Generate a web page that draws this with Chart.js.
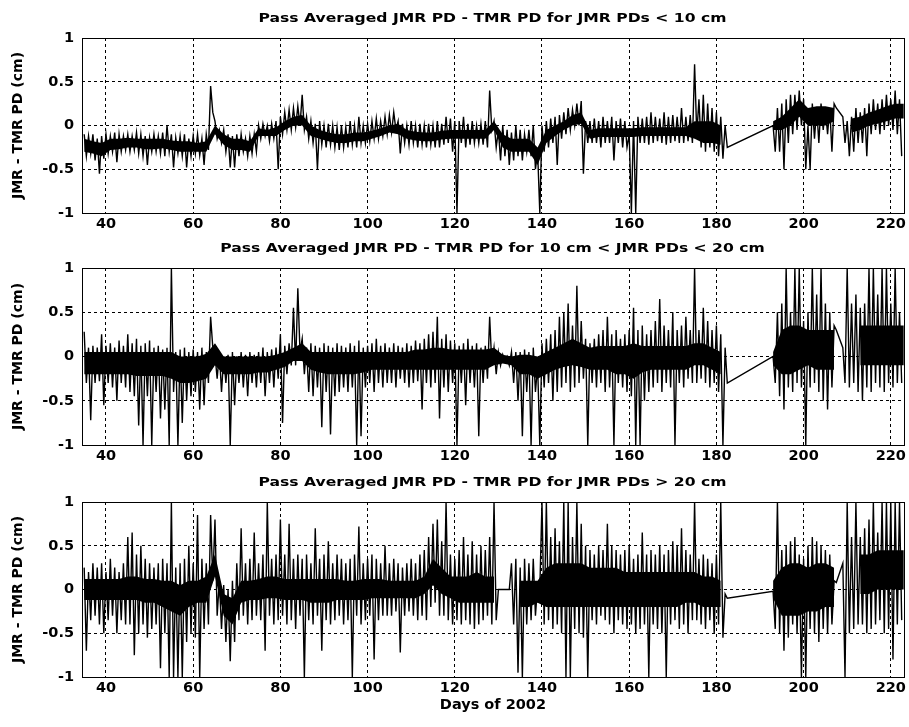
<!DOCTYPE html>
<html>
<head>
<meta charset="utf-8">
<script src="https://cdn.jsdelivr.net/npm/chart.js@4.4.0/dist/chart.umd.min.js"></script>
<style>
body { margin: 0; background: #fff; }
#wrap { position: relative; width: 909px; height: 727px; }
canvas { position: absolute; left: 0; }
</style>
</head>
<body>
<div id="wrap">
  <canvas id="c1" width="909" height="232" style="top:0px"></canvas>
  <canvas id="c2" width="909" height="232" style="top:232px"></canvas>
  <canvas id="c3" width="909" height="263" style="top:464px"></canvas>
</div>
<script>
// day of 2002 for the first value in every series: one hi/lo pair per day,
// the dense core band is read every coreStep days
const firstDay = 35
const coreStep = 2
const dayTicks = [40, 60, 80, 100, 120, 140, 160, 180, 200, 220]
const pdTicks = [-1, -0.5, 0, 0.5, 1]

const titles = [
    'Pass Averaged JMR PD - TMR PD for JMR PDs < 10 cm',
    'Pass Averaged JMR PD - TMR PD for 10 cm < JMR PDs < 20 cm',
    'Pass Averaged JMR PD - TMR PD for JMR PDs > 20 cm'
]
const yLabel = 'JMR - TMR PD (cm)'
const xLabel = 'Days of 2002'

// JMR PDs < 10 cm
const lowHi = [
    -0.1, -0.12, -0.1, -0.15, -0.12, -0.1, -0.12, -0.08, -0.1, -0.12,   // 35
    -0.1, -0.12, -0.08, -0.1, -0.12, -0.14, -0.1, -0.12, -0.08, 0.0,    // 45
    -0.1, -0.14, -0.12, -0.1, -0.15, -0.12, -0.1, -0.15, -0.1, 0.45,    // 55
    0.05, -0.05, -0.05, -0.1, -0.12, -0.1, -0.1, -0.15, -0.12, -0.1,    // 65
    0.0, 0.02, 0.0, 0.02, 0.05, 0.1, 0.15, 0.18, 0.2, 0.22,             // 75
    0.35, 0.1, 0.05, 0.02, 0.05, 0.0, 0.02, 0.0, -0.02, 0.0,            // 85
    -0.02, 0.05, 0.0, 0.1, 0.0, 0.02, 0.05, 0.08, 0.05, 0.1,            // 95
    0.12, 0.15, 0.05, 0.02, 0.0, 0.05, 0.0, 0.02, 0.0, 0.02,            // 105
    0.0, 0.05, 0.02, 0.1, 0.08, 0.05, 0.05, 0.1, 0.02, 0.05,            // 115
    0.0, 0.02, 0.05, 0.4, 0.05, -0.05, 0.0, -0.05, -0.08, 0.0,          // 125
    -0.05, -0.1, -0.05, 0.0, -0.3, 0.0, 0.05, 0.08, 0.1, 0.12,          // 135
    0.15, 0.2, 0.18, 0.25, 0.28, 0.05, 0.05, 0.08, 0.05, 0.1,           // 145
    0.05, 0.1, 0.05, 0.08, 0.05, -0.1, 0.05, 0.1, 0.08, 0.1,            // 155
    0.15, 0.1, 0.08, 0.15, 0.1, 0.12, 0.1, 0.2, 0.1, 0.12,              // 165
    0.7, 0.3, 0.35, 0.25, 0.2, 0.15, 0.1, 0.0, null, null,              // 175
    null, null, null, null, null, null, null, null,                     // 185
    0.0, 0.2, 0.25, 0.3, 0.35, 0.35, 0.4, 0.3, 0.0, 0.25,               // 193
    0.2, 0.25, 0.2, 0.2, 0.25, null, 0.1, 0.05, 0.1, 0.2,               // 203
    0.15, 0.2, 0.25, 0.3, 0.25, 0.3, 0.35, 0.3, 0.4, 0.3                // 213
]
const lowLo = [
    -0.35, -0.32, -0.4, -0.55, -0.38, -0.32, -0.3, -0.42, -0.3, -0.28,
    -0.3, -0.28, -0.32, -0.35, -0.45, -0.3, -0.3, -0.32, -0.35, -0.3,
    -0.48, -0.32, -0.35, -0.48, -0.35, -0.32, -0.34, -0.45, -0.28, 0.15,
    -0.15, -0.2, -0.3, -0.48, -0.48, -0.35, -0.3, -0.35, -0.32, -0.3,
    -0.15, -0.12, -0.18, -0.15, -0.5, -0.1, -0.05, -0.05, -0.02, 0.0,
    -0.05, -0.15, -0.2, -0.5, -0.22, -0.25, -0.22, -0.25, -0.28, -0.25,
    -0.25, -0.22, -0.25, -0.2, -0.2, -0.18, -0.15, -0.15, -0.12, -0.1,
    -0.08, -0.05, -0.32, -0.2, -0.22, -0.2, -0.25, -0.22, -0.25, -0.22,
    -0.25, -0.25, -0.22, -0.2, -0.3, -1.0, -0.2, -0.25, -0.22, -0.2,
    -0.2, -0.22, -0.25, -0.05, -0.25, -0.4, -0.35, -0.45, -0.4, -0.35,
    -0.4, -0.3, -0.35, -0.5, -1.0, -0.3, -0.25, -0.2, -0.45, -0.15,
    -0.1, -0.05, 0.0, 0.0, -0.55, -0.2, -0.2, -0.2, -0.25, -0.2,
    -0.2, -0.4, -0.2, -0.25, -0.25, -1.0, -1.0, -0.2, -0.2, -0.22,
    -0.2, -0.18, -0.2, -0.22, -0.2, -0.18, -0.2, -0.2, -0.18, -0.2,
    -0.1, -0.25, -0.3, -0.25, -0.3, -0.35, -0.38, -0.25, null, null,
    null, null, null, null, null, null, null, null,
    -0.3, -0.3, -0.5, -0.2, -0.1, -0.05, 0.0, -0.5, -0.5, -0.15,
    -0.2, -0.05, -0.1, -0.3, 0.2, null, -0.2, -0.35, -0.3, -0.2,
    -0.2, -0.35, -0.1, -0.05, -0.1, -0.05, 0.0, -0.05, -0.1, -0.35
]
// core band, days 35, 37, ... 223
const lowCoreHi = [
    -0.15, -0.18, -0.2, -0.15, -0.15, -0.14, -0.15, -0.15, -0.15, -0.15,   // 35
    -0.17, -0.18, -0.18, -0.2, -0.18, 0.0, -0.1, -0.15, -0.15, -0.18,      // 55
    -0.03, -0.05, -0.02, 0.05, 0.1, 0.12, 0.0, -0.05, -0.08, -0.1,         // 75
    -0.1, -0.08, -0.08, -0.06, -0.03, 0.0, 0.02, -0.05, -0.07, -0.08,      // 95
    -0.08, -0.06, -0.05, -0.05, -0.05, -0.05, -0.05, 0.05, -0.1, -0.15,    // 115
    -0.15, -0.15, -0.25, -0.05, 0.0, 0.05, 0.12, 0.15, -0.05, -0.03,       // 135
    -0.03, -0.03, -0.03, -0.03, -0.02, -0.02, -0.02, -0.02, -0.02, -0.02,  // 155
    0.05, 0.05, 0.05, 0.0, null, null, null, null, null, 0.05,             // 175
    0.1, 0.2, 0.3, 0.2, 0.22, 0.22, 0.2, null, 0.08, 0.1,                  // 195
    0.15, 0.18, 0.22, 0.25, 0.25                                           // 215
]
const lowCoreLo = [
    -0.3, -0.32, -0.35, -0.28, -0.27, -0.25, -0.25, -0.27, -0.27, -0.26,
    -0.28, -0.3, -0.3, -0.3, -0.3, -0.1, -0.22, -0.28, -0.28, -0.3,
    -0.12, -0.12, -0.12, -0.05, 0.0, 0.0, -0.12, -0.15, -0.18, -0.2,
    -0.2, -0.18, -0.18, -0.15, -0.12, -0.08, -0.1, -0.15, -0.17, -0.18,
    -0.18, -0.16, -0.15, -0.15, -0.15, -0.15, -0.15, -0.05, -0.25, -0.3,
    -0.3, -0.3, -0.45, -0.2, -0.12, -0.05, 0.0, 0.02, -0.15, -0.13,
    -0.13, -0.13, -0.13, -0.13, -0.12, -0.12, -0.12, -0.12, -0.12, -0.12,
    -0.15, -0.2, -0.2, -0.22, null, null, null, null, null, -0.05,
    -0.05, 0.0, 0.1, 0.0, 0.0, 0.0, 0.05, null, -0.08, -0.05,
    0.0, 0.02, 0.05, 0.08, 0.08
]

// 10 cm < JMR PDs < 20 cm
const midHi = [
    0.28, 0.1, 0.12, 0.1, 0.25, 0.12, 0.15, 0.1, 0.18, 0.12,
    0.25, 0.15, 0.2, 0.12, 0.15, 0.18, 0.1, 0.12, 0.08, 0.1,
    1.0, 0.05, 0.08, 0.1, 0.05, 0.08, 0.05, 0.1, 0.05, 0.45,
    0.02, 0.05, 0.0, 0.02, 0.05, 0.0, 0.05, 0.02, 0.05, 0.02,
    0.05, 0.1, 0.05, 0.08, 0.1, 0.25, 0.12, 0.15, 0.55, 0.77,
    0.2, 0.1, 0.15, 0.12, 0.1, 0.15, 0.12, 0.1, 0.15, 0.12,
    0.1, 0.15, 0.12, 0.18, 0.1, 0.12, 0.15, 0.2, 0.12, 0.15,
    0.1, 0.15, 0.12, 0.1, 0.15, 0.12, 0.18, 0.15, 0.2, 0.25,
    0.28, 0.45, 0.2, 0.25, 0.18, 0.15, 0.12, 0.15, 0.2, 0.12,
    0.15, 0.1, 0.12, 0.45, 0.1, 0.05, 0.02, 0.0, 0.05, 0.05,
    0.05, 0.08, 0.05, 0.1, -0.1, 0.15, 0.2, 0.25, 0.3, 0.45,
    0.5, 0.6, 0.35, 0.8, 0.4, 0.2, 0.15, 0.2, 0.25, 0.3,
    0.45, 0.25, 0.3, 0.2, 0.25, 0.3, 0.55, 0.3, 0.35, 0.25,
    0.3, 0.4, 0.65, 0.35, 0.3, 0.5, 0.3, 0.35, 0.45, 0.3,
    1.0, 0.3, 0.55, 0.4, 0.3, 0.35, 0.25, 0.1, null, null,
    null, null, null, null, null, null, null, null,
    0.0, 0.5, 0.6, 1.0, 0.5, 1.0, 1.0, 0.4, 0.5, 1.0,
    0.7, 1.0, 0.6, 0.5, 0.35, null, 0.1, 1.0, 0.6, 0.7,
    0.55, 0.6, 1.0, 1.0, 0.7, 1.0, 1.0, 0.6, 1.0, 0.5
]
const midLo = [
    -0.3, -0.72, -0.3, -0.28, -0.55, -0.3, -0.35, -0.5, -0.3, -0.35,
    -0.4, -0.45, -0.78, -1.0, -0.45, -1.0, -0.4, -0.7, -0.6, -1.0,
    -0.4, -1.0, -0.75, -0.5, -0.45, -0.4, -0.6, -0.55, -0.3, 0.1,
    -0.25, -0.4, -0.3, -1.0, -0.55, -0.3, -0.35, -0.45, -0.3, -0.35,
    -0.3, -0.45, -0.3, -0.35, -0.25, -0.75, -0.2, -0.1, -0.1, 0.05,
    -0.2, -0.4, -0.45, -0.35, -0.8, -0.4, -0.88, -0.45, -0.4, -0.35,
    -0.4, -0.35, -1.0, -0.9, -0.35, -0.3, -0.4, -0.3, -0.35, -0.3,
    -0.3, -0.35, -0.25, -0.3, -0.35, -0.3, -0.28, -0.6, -0.3, -0.35,
    -0.3, -0.7, -0.35, -0.4, -0.3, -1.0, -0.3, -0.55, -0.3, -0.35,
    -0.9, -0.3, -0.25, -0.1, -0.2, -0.1, -0.05, -0.1, -0.3, -0.5,
    -0.9, -0.4, -1.0, -0.4, -1.0, -0.35, -0.3, -0.5, -0.4, -0.35,
    -0.3, -0.4, -0.35, -0.3, -0.25, -1.0, -0.3, -0.35, -0.3, -0.4,
    -0.35, -1.0, -0.3, -0.35, -0.4, -0.45, -1.0, -1.0, -0.5, -0.4,
    -0.35, -0.3, -0.4, -0.3, -0.35, -1.0, -0.3, -0.35, -0.25, -0.3,
    -0.3, -0.25, -0.3, -0.35, -0.3, -0.4, -1.0, -0.3, null, null,
    null, null, null, null, null, null, null, null,
    -0.3, -0.45, -0.6, -0.35, -0.4, -0.3, -0.35, -1.0, -0.35, -0.3,
    -0.4, -0.5, -0.6, -0.35, 0.3, null, -0.3, -0.35, -0.3, -0.4,
    -0.5, -0.35, -0.4, -0.3, -0.35, -0.4, -0.3, -0.35, -0.3, -0.3
]
const midCoreHi = [
    0.05, 0.05, 0.05, 0.05, 0.05, 0.05, 0.05, 0.05, 0.05, 0.05,
    0.05, 0.0, 0.0, 0.0, 0.03, 0.15, 0.0, 0.0, 0.0, 0.0,
    0.0, 0.0, 0.02, 0.05, 0.1, 0.15, 0.05, 0.05, 0.05, 0.05,
    0.05, 0.05, 0.05, 0.05, 0.05, 0.05, 0.05, 0.05, 0.08, 0.08,
    0.1, 0.1, 0.08, 0.08, 0.08, 0.08, 0.08, 0.1, 0.02, 0.0,
    0.02, 0.02, 0.0, 0.05, 0.1, 0.15, 0.2, 0.15, 0.1, 0.12,
    0.12, 0.12, 0.12, 0.15, 0.12, 0.12, 0.12, 0.12, 0.12, 0.12,
    0.15, 0.15, 0.1, 0.05, null, null, null, null, null, 0.05,
    0.3, 0.35, 0.35, 0.3, 0.3, 0.3, 0.3, null, null, 0.35,
    0.35, 0.35, 0.35, 0.35, 0.35
]
const midCoreLo = [
    -0.2, -0.2, -0.2, -0.2, -0.2, -0.2, -0.22, -0.22, -0.22, -0.22,
    -0.25, -0.3, -0.3, -0.28, -0.25, -0.1, -0.2, -0.2, -0.2, -0.2,
    -0.18, -0.18, -0.15, -0.12, -0.05, -0.05, -0.15, -0.18, -0.2, -0.2,
    -0.2, -0.2, -0.18, -0.15, -0.15, -0.15, -0.15, -0.15, -0.15, -0.15,
    -0.15, -0.15, -0.15, -0.15, -0.15, -0.15, -0.15, -0.1, -0.08, -0.1,
    -0.2, -0.2, -0.25, -0.2, -0.15, -0.12, -0.1, -0.12, -0.15, -0.15,
    -0.15, -0.2, -0.2, -0.25, -0.18, -0.15, -0.15, -0.15, -0.15, -0.15,
    -0.1, -0.1, -0.15, -0.2, null, null, null, null, null, -0.1,
    -0.2, -0.2, -0.15, -0.1, -0.15, -0.15, -0.15, null, null, -0.1,
    -0.1, -0.1, -0.1, -0.1, -0.1
]

// JMR PDs > 20 cm
const highHi = [
    0.25, 0.2, 0.3, 0.25, 0.3, 0.2, 0.35, 0.25, 0.2, 0.3,
    0.6, 0.65, 0.4, 0.5, 0.35, 0.3, 0.25, 0.3, 0.35, 0.3,
    1.0, 0.25, 0.3, 0.35, 0.5, 0.3, 0.85, 0.35, 0.3, 0.85,
    0.8, 0.1, 0.05, 0.0, 0.1, 0.3, 0.7, 0.3, 0.35, 0.65,
    0.3, 0.4, 1.0, 0.35, 0.4, 0.8, 0.4, 0.75, 0.35, 0.4,
    0.35, 0.4, 0.3, 0.7, 0.35, 0.4, 0.55, 0.3, 0.4, 0.35,
    0.3, 0.35, 0.4, 0.72, 0.3, 0.35, 0.4, 0.35, 0.3, 0.5,
    0.3, 0.35, 0.3, 0.25, 0.3, 0.35, 0.3, 0.4, 0.45, 0.6,
    0.75, 0.8, 0.55, 1.0, 0.4, 0.35, 0.45, 0.6, 0.4, 0.55,
    0.4, 0.5, 0.45, 0.6, 1.0, 0.0, 0.0, 0.0, 0.3, 0.35,
    0.25, 0.35, 0.3, 0.35, 0.05, 1.0, 1.0, 0.6, 0.7, 0.55,
    1.0, 1.0, 0.6, 1.0, 0.75, 0.5, 0.45, 0.4, 0.5, 0.45,
    0.75, 0.5, 0.45, 0.4, 0.45, 0.5, 0.35, 0.4, 0.65, 0.4,
    0.45, 0.4, 0.5, 0.4, 0.45, 0.55, 0.5, 0.7, 0.45, 0.4,
    1.0, 0.35, 0.4, 0.35, 0.3, 0.4, 1.0, -0.05, null, null,
    null, null, null, null, null, null, null, null,
    -0.02, 1.0, 0.45, 0.5, 0.55, 0.6, 0.4, 0.35, 0.5, 0.6,
    0.55, 0.5, 0.45, 0.4, 0.1, null, 0.3, 1.0, 0.6, 1.0,
    0.6, 0.7, 0.8, 1.0, 0.65, 1.0, 1.0, 1.0, 1.0, 1.0
]
const highLo = [
    -0.7, -0.35, -0.3, -0.4, -0.5, -0.35, -0.3, -0.5, -0.35, -0.4,
    -0.4, -0.75, -0.5, -0.4, -0.55, -0.45, -0.4, -0.9, -0.5, -1.0,
    -1.0, -1.0, -1.0, -0.6, -0.5, -0.55, -1.0, -0.45, -0.4, 0.1,
    -0.3, -0.45, -0.6, -0.82, -0.6, -0.35, -0.3, -0.4, -0.35, -0.3,
    -0.35, -0.7, -0.3, -0.4, -0.35, -0.3, -0.4, -0.35, -0.45, -0.3,
    -1.0, -0.35, -0.4, -0.3, -0.7, -0.35, -0.4, -0.35, -0.3, -0.4,
    -0.35, -1.0, -0.3, -0.4, -0.35, -0.3, -0.8, -0.35, -0.3, -0.3,
    -0.3, -0.25, -0.72, -0.3, -0.25, -0.3, -0.35, -0.3, -0.35, -0.2,
    -0.15, -0.3, -0.3, -0.35, -0.4, -0.35, -0.4, -0.35, -0.4, -0.45,
    -0.4, -0.35, -0.3, -0.4, -0.35, 0.0, 0.0, 0.0, -0.4, -0.95,
    -1.0, -0.4, -0.35, -0.3, 0.0, -0.4, -0.35, -0.45, -0.4, -0.5,
    -1.0, -1.0, -0.45, -0.5, -0.55, -1.0, -0.35, -0.4, -0.3, -0.35,
    -0.4, -0.5, -0.35, -0.4, -0.45, -0.4, -0.5, -0.45, -0.4, -1.0,
    -0.4, -0.45, -0.5, -1.0, -0.4, -0.35, -0.45, -0.4, -0.5, -0.35,
    -0.35, -0.4, -0.45, -0.35, -0.5, -0.4, -0.55, -0.1, null, null,
    null, null, null, null, null, null, null, null,
    -0.45, -0.5, -0.7, -0.55, -0.4, -0.5, -1.0, -1.0, -0.45, -0.5,
    -0.6, -0.45, -0.5, -0.4, 0.08, null, -1.0, -0.5, -0.45, -0.4,
    -0.4, -0.5, -0.45, -0.4, -0.35, -0.5, -0.45, -0.8, -0.4, -0.35
]
const highCoreHi = [
    0.12, 0.12, 0.12, 0.12, 0.12, 0.15, 0.15, 0.12, 0.12, 0.1,
    0.1, 0.05, 0.1, 0.1, 0.15, 0.4, -0.05, -0.1, 0.1, 0.1,
    0.12, 0.15, 0.15, 0.12, 0.12, 0.12, 0.12, 0.12, 0.12, 0.12,
    0.1, 0.1, 0.12, 0.12, 0.12, 0.1, 0.1, 0.1, 0.1, 0.15,
    0.35, 0.25, 0.15, 0.15, 0.15, 0.2, 0.15, 0.15, null, null,
    0.1, 0.1, 0.1, 0.25, 0.3, 0.3, 0.3, 0.3, 0.25, 0.25,
    0.25, 0.25, 0.2, 0.2, 0.2, 0.2, 0.2, 0.2, 0.2, 0.2,
    0.2, 0.15, 0.15, 0.1, null, null, null, null, null, 0.1,
    0.25, 0.3, 0.3, 0.25, 0.3, 0.3, 0.25, null, null, 0.4,
    0.4, 0.45, 0.45, 0.45, 0.45
]
const highCoreLo = [
    -0.12, -0.12, -0.12, -0.12, -0.12, -0.12, -0.12, -0.15, -0.15, -0.2,
    -0.25, -0.3, -0.2, -0.15, -0.15, 0.15, -0.3, -0.4, -0.15, -0.12,
    -0.12, -0.1, -0.1, -0.12, -0.12, -0.12, -0.15, -0.15, -0.15, -0.12,
    -0.12, -0.12, -0.12, -0.1, -0.1, -0.1, -0.1, -0.1, -0.1, -0.05,
    0.05, -0.05, -0.1, -0.15, -0.15, -0.15, -0.15, -0.15, null, null,
    -0.2, -0.2, -0.15, -0.2, -0.2, -0.2, -0.2, -0.2, -0.2, -0.2,
    -0.2, -0.2, -0.2, -0.2, -0.2, -0.2, -0.2, -0.2, -0.2, -0.15,
    -0.15, -0.2, -0.2, -0.2, null, null, null, null, null, -0.1,
    -0.3, -0.3, -0.3, -0.25, -0.25, -0.2, -0.2, null, null, -0.05,
    -0.05, 0.0, 0.0, 0.0, 0.0
]

// day index i -> day; a gap (null) is skipped so the line joins across it
const zigzag = (hi, lo) => {
    const pts = []
    hi.forEach((h, i) => {
        if (h === null) return
        pts.push({ x: firstDay + i, y: h })
        pts.push({ x: firstDay + i + 0.5, y: lo[i] })
    })
    return pts
}
const band = (vals) => vals.map((v, i) => ({ x: firstDay + coreStep * i, y: v }))

const tickFont = { family: 'DejaVu Sans', weight: 'bold', size: 14.5 }

// frame round the plot plus the MATLAB style texts
const framePlugin = {
    id: 'frame',
    afterDraw(chart, args, opts) {
        const { ctx, chartArea: a } = chart
        ctx.save()
        ctx.strokeStyle = '#000'
        ctx.lineWidth = 1
        ctx.strokeRect(Math.round(a.left) + 0.5, Math.round(a.top) + 0.5,
            Math.round(a.right - a.left), Math.round(a.bottom - a.top))

        ctx.fillStyle = '#000'
        ctx.textAlign = 'center'
        ctx.textBaseline = 'middle'

        ctx.save()
        ctx.font = 'bold 13px "DejaVu Sans"'
        ctx.translate(492.5, opts.titleY)
        ctx.scale(1.2, 1)
        ctx.fillText(opts.title, 0, 0)
        ctx.restore()

        ctx.save()
        ctx.font = 'bold 14px "DejaVu Sans"'
        ctx.translate(18.5, (a.top + a.bottom) / 2)
        ctx.rotate(-Math.PI / 2)
        ctx.fillText(yLabel, 0, 0)
        ctx.restore()

        if (opts.xTitle) {
            ctx.font = 'bold 14.5px "DejaVu Sans"'
            ctx.fillText(opts.xTitle, (a.left + a.right) / 2, opts.xTitleY)
        }
        ctx.restore()
    }
}

const makePanel = (id, title, hi, lo, coreHi, coreLo, top, plotH, titleY, xTitle) => {
    const canvas = document.getElementById(id)
    const axisH = canvas.height - top - plotH
    new Chart(canvas, {
        type: 'line',
        data: {
            datasets: [
                {
                    data: band(coreHi),
                    borderWidth: 0,
                    pointRadius: 0,
                    fill: false
                },
                {
                    data: band(coreLo),
                    borderWidth: 0,
                    pointRadius: 0,
                    fill: '-1',
                    backgroundColor: '#000'
                },
                {
                    data: zigzag(hi, lo),
                    borderColor: '#000',
                    borderWidth: 1.4,
                    pointRadius: 0,
                    tension: 0,
                    fill: false
                }
            ]
        },
        options: {
            responsive: false,
            animation: false,
            events: [],
            layout: { padding: { top: top, left: 0, right: 4.5, bottom: 0 } },
            plugins: {
                legend: { display: false },
                tooltip: { enabled: false },
                frame: { title: title, titleY: titleY, xTitle: xTitle, xTitleY: canvas.height - 22 }
            },
            scales: {
                x: {
                    type: 'linear',
                    min: 34.5,
                    max: 223,
                    afterFit: (s) => { s.height = axisH },
                    afterBuildTicks: (s) => { s.ticks = dayTicks.map(v => ({ value: v })) },
                    grid: { color: '#000', lineWidth: 1, drawTicks: false },
                    border: { display: false, dash: [3, 3] },
                    ticks: { color: '#000', font: tickFont, padding: 3, maxRotation: 0, autoSkip: false,
                        callback: (v) => String(v) }
                },
                y: {
                    min: -1,
                    max: 1,
                    afterFit: (s) => { s.width = 82 },
                    afterBuildTicks: (s) => { s.ticks = pdTicks.map(v => ({ value: v })) },
                    grid: { color: '#000', lineWidth: 1, drawTicks: false },
                    border: { display: false, dash: [3, 3] },
                    ticks: { color: '#000', font: tickFont, padding: 8, callback: (v) => String(v) }
                }
            }
        },
        plugins: [framePlugin]
    })
}

makePanel('c1', titles[0], lowHi, lowLo, lowCoreHi, lowCoreLo, 38, 175, 19, null)
makePanel('c2', titles[1], midHi, midLo, midCoreHi, midCoreLo, 36, 177, 17, null)
makePanel('c3', titles[2], highHi, highLo, highCoreHi, highCoreLo, 38, 175, 18.5, xLabel)
</script>
</body>
</html>
